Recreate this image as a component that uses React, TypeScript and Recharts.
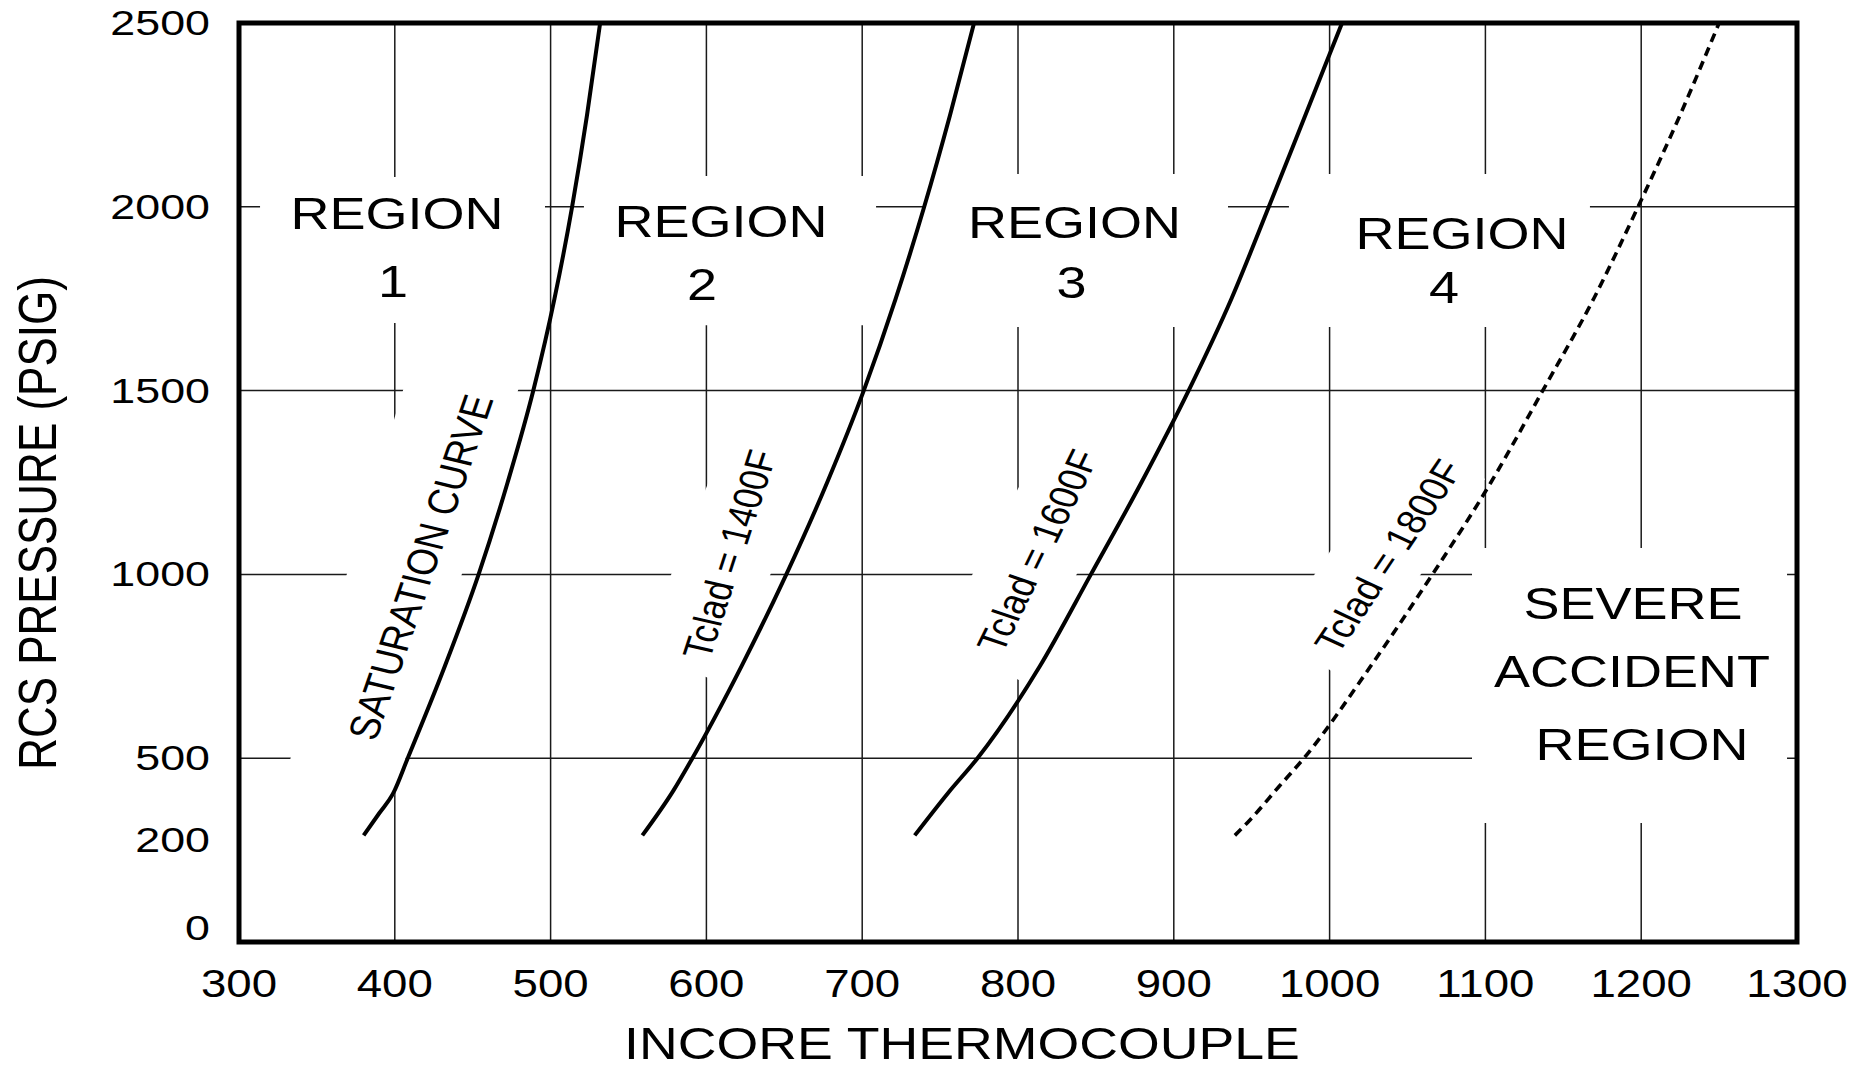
import React from "react";
import {
  LineChart,
  Line,
  XAxis,
  YAxis,
  CartesianGrid,
  ReferenceArea,
  ReferenceDot,
  Label,
} from "recharts";

const WIDTH = 1858;
const HEIGHT = 1069;
const FONT = "'Liberation Sans', Arial, Helvetica, sans-serif";
// the scanned original is stretched sideways, so the lettering is too
const STRETCH = 1.2;

const TEMP_TICKS = [300, 400, 500, 600, 700, 800, 900, 1000, 1100, 1200, 1300];
const PRESSURE_TICKS = [0, 200, 500, 1000, 1500, 2000, 2500];
const TEMP_GRID = [400, 500, 600, 700, 800, 900, 1000, 1100, 1200];
const PRESSURE_GRID = [500, 1000, 1500, 2000];

// [incore thermocouple (F), RCS pressure (psig)]
const SATURATION_CURVE: [number, number][] = [
  [380, 200], [390, 286], [399, 364], [408.3, 500], [432.1, 750], [453.8, 1000],
  [472.4, 1250], [488.9, 1500], [502.5, 1750], [513.8, 2000], [523.4, 2250], [531.8, 2500],
];

const TCLAD_1400: [number, number][] = [
  [558.9, 200], [579, 376], [591, 500], [622.5, 750], [651.3, 1000], [677.5, 1250],
  [701, 1500], [721.5, 1750], [739.8, 2000], [756.4, 2250], [771.8, 2500],
];

const TCLAD_1600: [number, number][] = [
  [733.7, 200], [755, 364], [774, 500], [814, 750], [846.8, 1000], [879.2, 1250],
  [909.5, 1500], [937, 1750], [961, 2000], [984.5, 2250], [1008, 2500],
];

const TCLAD_1800: [number, number][] = [
  [939.2, 200], [948.9, 260], [967.4, 389], [983.5, 500], [1026.3, 750], [1066, 1000],
  [1103.5, 1250], [1136.8, 1500], [1169.5, 1750], [1198, 2000], [1225, 2250], [1250, 2500],
];

// the 0-500 psig band of the original is not to scale: 200 sits where 290 would be
const Y_AT_200 = 290;
function toAxis(p: number) {
  if (p <= 200) return (p * Y_AT_200) / 200;
  if (p <= 500) return Y_AT_200 + ((p - 200) * (500 - Y_AT_200)) / 300;
  return p;
}
const toPoints = (curve: [number, number][]) => curve.map(([t, p]) => ({ t, p: toAxis(p) }));

// white label backgrounds that break the grid (data units)
const LABEL_BOXES = [
  { x1: 313.5, x2: 496.4, y1: 1684, y2: 2081 },
  { x1: 521.4, x2: 708.9, y1: 1678, y2: 2084 },
  { x1: 739.7, x2: 934.8, y1: 1673, y2: 2089 },
  { x1: 973.9, x2: 1167.1, y1: 1673, y2: 2089 },
  { x1: 1091.4, x2: 1293.6, y1: 324, y2: 1072 },
];

const REGION_TEXTS = [
  { t: 401.4, p: 1940, lines: ["REGION", "1"], offsets: [[0, 0], [-4, 68]] },
  { t: 609.4, p: 1918, lines: ["REGION", "2"], offsets: [[0, 0], [-19, 63]] },
  { t: 836.3, p: 1915, lines: ["REGION", "3"], offsets: [[0, 0], [-3, 60]] },
  { t: 1085, p: 1885, lines: ["REGION", "4"], offsets: [[0, 0], [-18, 54]] },
  { t: 1196, p: 879, lines: ["SEVERE", "ACCIDENT", "REGION"], offsets: [[-2, 0], [-3, 68], [7, 141]] },
];

const CURVE_LABELS = [
  { text: "SATURATION CURVE", t: 416.2, p: 1020, angle: 74, size: 35.5, box: { dx: -16, dy: 8, angle: 73, len: 450, wid: 110 } },
  { text: "Tclad = 1400F", t: 614.5, p: 1055, angle: 74.8, size: 34, box: { dx: 0, dy: 0, angle: 68, len: 245, wid: 92 } },
  { text: "Tclad = 1600F", t: 812.2, p: 1064, angle: 67.9, size: 34, box: { dx: 0, dy: 0, angle: 62, len: 245, wid: 92 } },
  { text: "Tclad = 1800F", t: 1037.5, p: 1050, angle: 60.7, size: 34, box: { dx: -8, dy: 0, angle: 56, len: 245, wid: 88 } },
];

function Stretched({ x, y, size, sx = STRETCH, anchor = "middle", children }: any) {
  return (
    <text
      transform={`translate(${x},${y}) scale(${sx},1)`}
      textAnchor={anchor}
      fontSize={size}
      fontFamily={FONT}
      fill="#000"
    >
      {children}
    </text>
  );
}

function TempTick({ x, y, payload }: any) {
  return (
    <Stretched x={x} y={y + 55} size={38}>
      {payload.value}
    </Stretched>
  );
}

function PressureTick({ x, y, payload }: any) {
  const label = PRESSURE_TICKS.find((p) => Math.abs(toAxis(p) - payload.value) < 1e-6) ?? payload.value;
  const dy = label === 0 ? -2 : label === 200 ? 17 : 12;
  return (
    <Stretched x={x} y={y + dy} size={35} sx={1.28} anchor="end">
      {label}
    </Stretched>
  );
}

function XTitle({ viewBox }: any) {
  return (
    <Stretched x={viewBox.x + viewBox.width * 0.464} y={viewBox.y + 117} size={44} sx={1.22}>
      INCORE THERMOCOUPLE
    </Stretched>
  );
}

function YTitle({ viewBox }: any) {
  return (
    <text
      transform={`translate(${viewBox.x + 37},${viewBox.y + 500}) scale(${STRETCH},1) rotate(-90)`}
      textAnchor="middle"
      dy="0.36em"
      fontSize={44}
      fontFamily={FONT}
      fill="#000"
    >
      RCS PRESSURE (PSIG)
    </text>
  );
}

export default function App() {
  return (
    <div style={{ position: "absolute", left: 0, top: 0, width: WIDTH, height: HEIGHT, background: "#fff" }}>
      <LineChart width={WIDTH} height={HEIGHT} margin={{ top: 23, right: 61, bottom: 0, left: 0 }}>
        <CartesianGrid
          stroke="#1a1a1a"
          strokeWidth={1.5}
          verticalValues={TEMP_GRID}
          horizontalValues={PRESSURE_GRID}
        />
        <XAxis
          type="number"
          dataKey="t"
          domain={[300, 1300]}
          ticks={TEMP_TICKS}
          interval={0}
          height={127}
          axisLine={false}
          tickLine={false}
          tickSize={0}
          tickMargin={0}
          tick={<TempTick />}
        >
          <Label content={<XTitle />} />
        </XAxis>
        <YAxis
          type="number"
          dataKey="p"
          domain={[0, 2500]}
          ticks={PRESSURE_TICKS.map(toAxis)}
          interval={0}
          width={239}
          axisLine={false}
          tickLine={false}
          tickSize={0}
          tickMargin={29}
          tick={<PressureTick />}
        >
          <Label content={<YTitle />} />
        </YAxis>

        {LABEL_BOXES.map((b, i) => (
          <ReferenceArea
            key={`box${i}`}
            {...b}
            fill="#fff"
            fillOpacity={1}
            stroke="none"
            ifOverflow="visible"
            zIndex={-50}
          />
        ))}

        {CURVE_LABELS.map((l) => (
          <ReferenceDot
            key={l.text}
            x={l.t}
            y={l.p}
            r={0}
            ifOverflow="visible"
            zIndex={-50}
            shape={(props: any) => (
              <g>
                <rect
                  transform={`translate(${props.cx + l.box.dx},${props.cy + l.box.dy}) rotate(${-l.box.angle})`}
                  x={-l.box.len / 2}
                  y={-l.box.wid / 2}
                  width={l.box.len}
                  height={l.box.wid}
                  fill="#fff"
                />
                <text
                  transform={`translate(${props.cx},${props.cy}) scale(${STRETCH},1) rotate(${-l.angle})`}
                  textAnchor="middle"
                  dy="0.36em"
                  fontSize={l.size}
                  fontFamily={FONT}
                  fill="#000"
                >
                  {l.text}
                </text>
              </g>
            )}
          />
        ))}

        {REGION_TEXTS.map((r, i) => (
          <ReferenceDot
            key={`region${i}`}
            x={r.t}
            y={r.p}
            r={0}
            ifOverflow="visible"
            zIndex={-50}
            shape={(props: any) => (
              <g>
                {r.lines.map((s, j) => (
                  <Stretched key={j} x={props.cx + r.offsets[j][0]} y={props.cy + r.offsets[j][1]} size={45}>
                    {s}
                  </Stretched>
                ))}
              </g>
            )}
          />
        ))}

        <Line data={toPoints(SATURATION_CURVE)} dataKey="p" type="monotone" stroke="#000" strokeWidth={4} dot={false} activeDot={false} isAnimationActive={false} />
        <Line data={toPoints(TCLAD_1400)} dataKey="p" type="monotone" stroke="#000" strokeWidth={4} dot={false} activeDot={false} isAnimationActive={false} />
        <Line data={toPoints(TCLAD_1600)} dataKey="p" type="monotone" stroke="#000" strokeWidth={4} dot={false} activeDot={false} isAnimationActive={false} />
        <Line data={toPoints(TCLAD_1800)} dataKey="p" type="monotone" stroke="#000" strokeWidth={3.6} strokeDasharray="9 6" dot={false} activeDot={false} isAnimationActive={false} />

        <ReferenceArea
          x1={300}
          x2={1300}
          y1={0}
          y2={2500}
          fill="none"
          stroke="#000"
          strokeWidth={5}
          ifOverflow="visible"
          zIndex={1000}
        />
      </LineChart>
    </div>
  );
}
